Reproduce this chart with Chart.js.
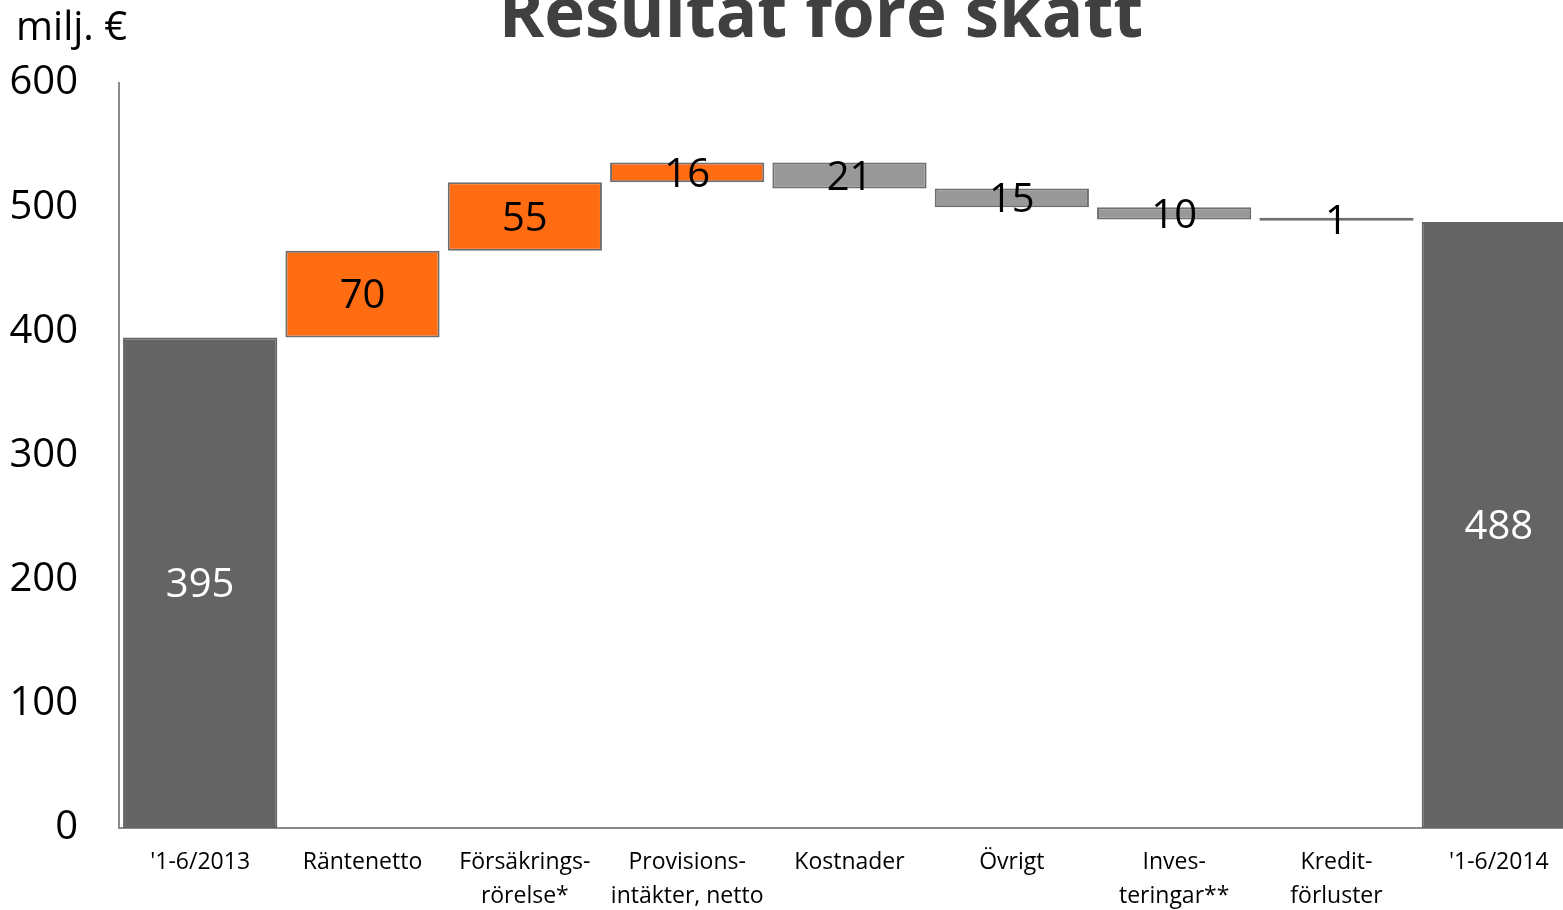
<!DOCTYPE html>
<html>
<head>
<meta charset="utf-8">
<script src="https://cdn.jsdelivr.net/npm/chart.js@4"></script>
<style>
    html, body { margin: 0; padding: 0; overflow: hidden; background: #fff; }
    #wrap { position: absolute; left: 0; top: -10px; width: 1600px; height: 920px; }
</style>
</head>
<body>
<div id="wrap"><canvas id="myChart"></canvas></div>
<script>
const categories = [
    ["'1-6/2013"], ["Räntenetto"], ["Försäkrings-", "rörelse*"], ["Provisions-", "intäkter, netto"],
    ["Kostnader"], ["Övrigt"], ["Inves-", "teringar**"], ["Kredit-", "förluster"], ["'1-6/2014"]
];
const startValue = 395;
const changes = [70, 55, 16, -21, -15, -10, -1];
const endValue = 488;
const yTicks = [0, 100, 200, 300, 400, 500, 600];

// floating bars for the waterfall
const ranges = [[0, startValue]];
const labelsText = [startValue];
let running = startValue;
changes.forEach((c) => {
    ranges.push([running, running + c]);
    labelsText.push(Math.abs(c));
    running += c;
});
ranges.push([0, endValue]);
labelsText.push(endValue);

const fill = ranges.map((r, i) => {
    if (i === 0 || i === ranges.length - 1) return '#646464';
    const c = changes[i - 1];
    if (Math.abs(c) <= 1) return '#6e6e6e'; // too thin, shows as a line
    return c > 0 ? '#FF6C12' : '#989898';
});
const border = ranges.map((r, i) => (i === 0 || i === ranges.length - 1) ? '#646464' : '#6e6e6e');

const FONT = "'Open Sans', sans-serif";

const valueLabels = {
    id: 'valueLabels',
    afterDatasetsDraw(chart) {
        const ctx = chart.ctx;
        const meta = chart.getDatasetMeta(0);
        ctx.save();
        ctx.font = '40px ' + FONT;
        ctx.textAlign = 'center';
        ctx.textBaseline = 'middle';
        meta.data.forEach((bar, i) => {
            const last = i === 0 || i === meta.data.length - 1;
            ctx.fillStyle = last ? '#ffffff' : '#000000';
            ctx.fillText(labelsText[i], bar.x, (bar.y + bar.base) / 2 + 3);
        });
        // unit label
        ctx.textAlign = 'left';
        ctx.fillStyle = '#000';
        ctx.fillText('milj. €', 16, 39);
        // title (partly cut off at the top, as in the original)
        ctx.textAlign = 'center';
        ctx.textBaseline = 'alphabetic';
        ctx.fillStyle = '#404040';
        ctx.font = 'bold 69px ' + FONT;
        ctx.fillText('Resultat före skatt', 821, 47);
        ctx.restore();
    }
};

new Chart(document.getElementById('myChart'), {
    type: 'bar',
    data: {
        labels: categories,
        datasets: [{
            data: ranges,
            backgroundColor: fill,
            borderColor: border,
            borderWidth: 2,
            borderSkipped: false,
            minBarLength: 3,
            barPercentage: 0.95,
            categoryPercentage: 1
        }]
    },
    options: {
        responsive: true,
        maintainAspectRatio: false,
        animation: false,
        layout: { padding: { top: 93, left: 0, right: 20, bottom: 0 } },
        plugins: {
            legend: { display: false },
            tooltip: { enabled: false },
            title: { display: false }
        },
        scales: {
            x: {
                grid: { display: false, drawTicks: false },
                border: { display: true, color: '#8a8a8a', width: 2 },
                ticks: {
                    color: '#000',
                    font: { family: FONT, size: 23, lineHeight: 1.45 },
                    padding: 18,
                    maxRotation: 0,
                    autoSkip: false
                },
                afterFit(scale) { scale.height = 82; }
            },
            y: {
                min: 0,
                max: 600,
                afterBuildTicks(scale) { scale.ticks = yTicks.map((v) => ({ value: v })); },
                grid: { display: false, drawTicks: false },
                border: { display: true, color: '#8a8a8a', width: 2 },
                ticks: {
                    color: '#000',
                    font: { family: FONT, size: 40 },
                    padding: 41
                },
                afterFit(scale) { scale.width = 119; }
            }
        }
    },
    plugins: [valueLabels]
});
</script>
</body>
</html>
